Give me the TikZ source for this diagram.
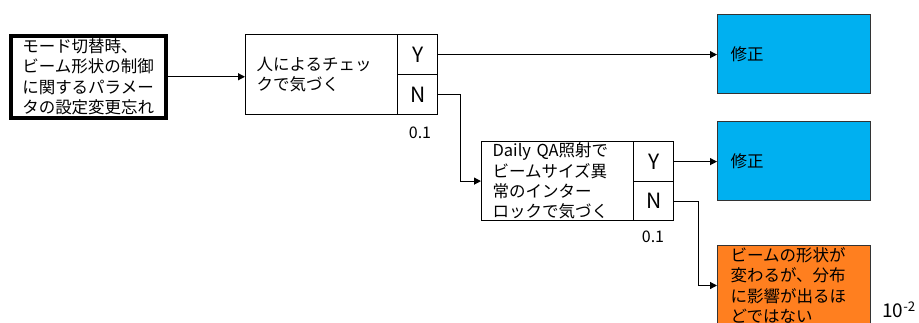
\documentclass[tikz,border=0pt]{standalone}
\usepackage{fontspec}
\setmainfont{Noto Sans CJK JP}
\usetikzlibrary{arrows.meta}
\definecolor{cblue}{HTML}{00B0F0}
\definecolor{corange}{HTML}{FF7F1F}
\begin{document}
\begin{tikzpicture}[x=1pt,y=-1pt,
  jp/.style={font=\fontsize{16.5}{20.3}\selectfont},
  mainbox/.style={draw, line width=1.2pt, rectangle, inner sep=0pt, anchor=north west, align=left, jp},
  cell/.style={draw, line width=1.2pt, rectangle, inner sep=0pt, anchor=north west, minimum width=40pt, minimum height=40pt, font=\fontsize{21}{22}\selectfont},
  result/.style={draw=black!80, line width=1pt, rectangle, inner sep=0pt, anchor=north west, minimum width=153pt, minimum height=79pt, align=left, jp},
  conn/.style={line width=1.2pt, -{Triangle[length=7pt,width=7pt]}},
  prob/.style={font=\fontsize{16}{17}\selectfont}
]
\useasboundingbox (0,0) rectangle (919,322);
% start event
\node[mainbox, line width=3.5pt, minimum width=155pt, minimum height=82pt, text width=132pt] (start) at (9,34)
  {モード切替時、\\ビーム形状の制御\\に関するパラメー\\タの設定変更忘れ};
% first check
\node[mainbox, minimum width=152pt, minimum height=80pt, text width=130pt] (chk1) at (245,34)
  {人によるチェッ\\クで気づく};
\node[cell] (y1) at (397,34) {Y};
\node[cell] (n1) at (397,74) {N};
\node[prob] (p1) at (420,133) {0.1};
% second check
\node[mainbox, minimum width=152pt, minimum height=79pt, text width=130pt] (chk2) at (481,141)
  {Daily QA照射で\\ビームサイズ異\\常のインター\\ロックで気づく};
\node[cell, minimum height=40pt] (y2) at (633,141) {Y};
\node[cell, minimum height=39pt] (n2) at (633,181) {N};
\node[prob] (p2) at (653,237) {0.1};
% results
\node[result, fill=cblue, text width=127pt] (r1) at (717,14) {修正};
\node[result, fill=cblue, text width=127pt] (r2) at (717,121) {修正};
\node[result, fill=corange, text width=127pt, minimum height=80pt] (r3) at (717,245)
  {ビームの形状が\\変わるが、分布\\に影響が出るほ\\どではない};
\node[font=\fontsize{19}{20}\selectfont] (p3) at (899,310) {10\textsuperscript{-2}};
% connectors
\draw[conn] (start.east) -- (start.east -| chk1.west);
\draw[conn] (y1.east) -- (y1.east -| r1.west);
\draw[conn] (n1.east) -- ++(22,0) |- (chk2.west);
\draw[conn] (y2.east) -- (y2.east -| r2.west);
\draw[conn] (n2.east) -- ++(24,0) |- (r3.west);
\end{tikzpicture}
\end{document}
